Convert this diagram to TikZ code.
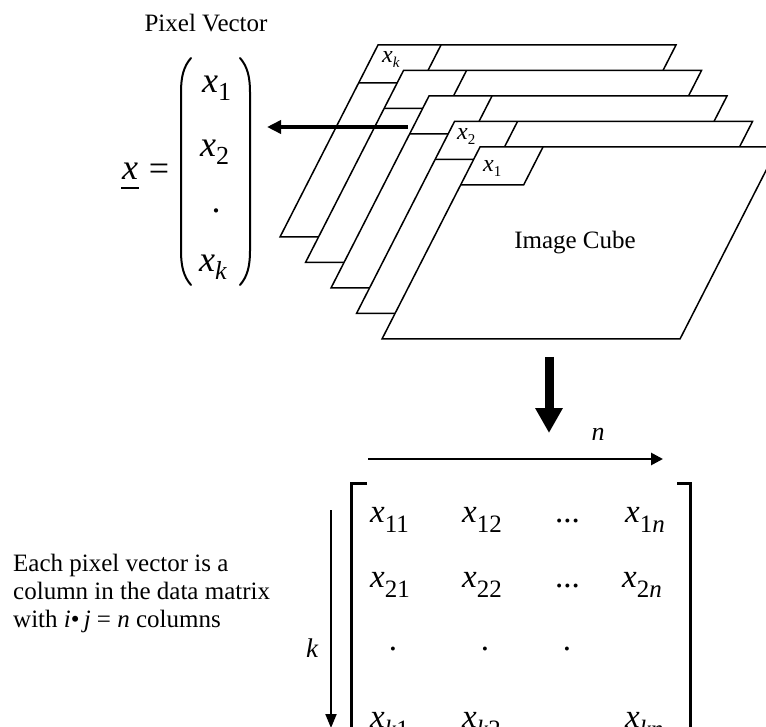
\documentclass[tikz,border=0pt]{standalone}
\usepackage{fontspec}
\setmainfont{Liberation Serif}
\usetikzlibrary{arrows.meta,calc}
\newcommand{\pvx}[1]{{\fontsize{36}{36}\selectfont\itshape x}\raisebox{-8pt}{\fontsize{26}{26}\selectfont #1}}
\newcommand{\pmx}[1]{{\fontsize{33}{33}\selectfont\itshape x}\raisebox{-10pt}{\fontsize{25}{25}\selectfont #1}}
\newcommand{\ptx}[1]{{\fontsize{24}{24}\selectfont\itshape x}\raisebox{-5pt}{\fontsize{15}{15}\selectfont #1}}
\begin{document}
\begin{tikzpicture}[x=1pt,y=-1pt,
  plane/.style={draw=black,fill=white,line width=1.5pt,line join=miter},
  tabline/.style={draw=black,line width=1.5pt},
  lbl/.style={inner sep=0pt,font=\fontsize{25}{28}\selectfont},
  ent/.style={inner sep=0pt,anchor=base west},
  paren/.style={line width=2pt,line cap=round},
  bracket/.style={line width=3pt}]
\useasboundingbox (0,0) rectangle (766,727);
\clip (0,0) rectangle (766,727);

% image cube planes (back to front)
\foreach \i in {0,...,4} {
  \coordinate (TL\i) at ({378+25.5*\i},{45+25.5*\i});
  \filldraw[plane] (TL\i) -- ++(298,0) -- ++(-98,192) -- ++(-298,0) -- cycle;
  \draw[tabline] ($(TL\i)+(63,0)$) -- ++(-19.4,38) -- ++(-63,0);
}
\node[ent] (tk) at (382,63) {\ptx{\textit{k}}};
\node[ent] (t2) at (457,140) {\ptx{2}};
\node[ent] (t1) at (483,172) {\ptx{1}};
\node[lbl,anchor=base] (cube) at (575,249) {Image Cube};

% pixel vector
\node[lbl,anchor=base] (pvlabel) at (206,32) {Pixel Vector};
\node[ent] (ux) at (122,180) {{\fontsize{36}{36}\selectfont\itshape x}};
\draw[line width=2pt] ($(ux.base west)+(-1,8)$) -- ($(ux.base east)+(1,8)$);
\node[inner sep=0pt,font=\fontsize{36}{36}\selectfont] (eq) at (159,172) {=};
\draw[paren] (191,58) .. controls (184,66) and (181,76) .. (181,92) -- (181,251) .. controls (181,267) and (184,277) .. (191,285);
\draw[paren] (240,58) .. controls (247,66) and (250,76) .. (250,92) -- (250,251) .. controls (250,267) and (247,277) .. (240,285);
\node[ent] (v1) at (202,93) {\pvx{1}};
\node[ent] (v2) at (200,157) {\pvx{2}};
\node[inner sep=0pt,anchor=base,font=\fontsize{36}{36}\selectfont] (vd) at (216,213) {.};
\node[ent] (vk) at (199,272) {\pvx{\textit{k}}};

% arrows
\coordinate (cubeout) at (408,127);
\coordinate (vecin) at (267,127);
\draw[line width=4.5pt,-{Triangle[length=14pt,width=13pt]}] (cubeout) -- (vecin);
\coordinate (cubebot) at (549,357);
\coordinate (mattop) at (549,433);
\draw[line width=9pt,-{Triangle[length=25pt,width=26pt]}] (cubebot) -- (mattop);

% matrix
\coordinate (ns) at (368,459);
\coordinate (ne) at (663,459);
\draw[line width=2.7pt,-{Triangle[length=12pt,width=12pt]}] (ns) -- (ne);
\node[inner sep=0pt,anchor=base,font=\fontsize{26}{26}\selectfont\itshape] (nl) at (598,440) {n};
\coordinate (ks) at (331,510);
\coordinate (ke) at (331,728);
\draw[line width=2pt,-{Triangle[length=14pt,width=11pt]}] (ks) -- (ke);
\node[inner sep=0pt,anchor=base,font=\fontsize{27}{27}\selectfont\itshape] (kl) at (312,657) {k};

\draw[bracket] (367,483) -- (351,483) -- (351,740);
\draw[bracket] (677,483) -- (690,483) -- (690,740);

\node[ent] (m11) at (370,522) {\pmx{11}};
\node[ent] (m12) at (462,522) {\pmx{12}};
\node[ent,font=\fontsize{33}{33}\selectfont] (m1d) at (555,522) {...};
\node[ent] (m1n) at (625,522) {\pmx{1\textit{n}}};
\node[ent] (m21) at (370,587) {\pmx{21}};
\node[ent] (m22) at (462,587) {\pmx{22}};
\node[ent,font=\fontsize{33}{33}\selectfont] (m2d) at (555,587) {...};
\node[ent] (m2n) at (622,587) {\pmx{2\textit{n}}};
\node[inner sep=0pt,anchor=base,font=\fontsize{33}{33}\selectfont] (m31) at (393,650) {.};
\node[inner sep=0pt,anchor=base,font=\fontsize{33}{33}\selectfont] (m32) at (485,650) {.};
\node[inner sep=0pt,anchor=base,font=\fontsize{33}{33}\selectfont] (m33) at (567,650) {.};
\node[ent] (mk1) at (370,727) {\pmx{\textit{k}1}};
\node[ent] (mk2) at (462,727) {\pmx{\textit{k}2}};
\node[ent] (mkn) at (625,727) {\pmx{\textit{kn}}};

% explanation
\node[lbl,anchor=base west] (e1) at (13,571) {Each pixel vector is a};
\node[lbl,anchor=base west] (e2) at (13,599) {column in the data matrix};
\node[lbl,anchor=base west] (e3) at (13,627) {with \textit{i}•\,\textit{j} = \textit{n} columns};
\end{tikzpicture}
\end{document}
